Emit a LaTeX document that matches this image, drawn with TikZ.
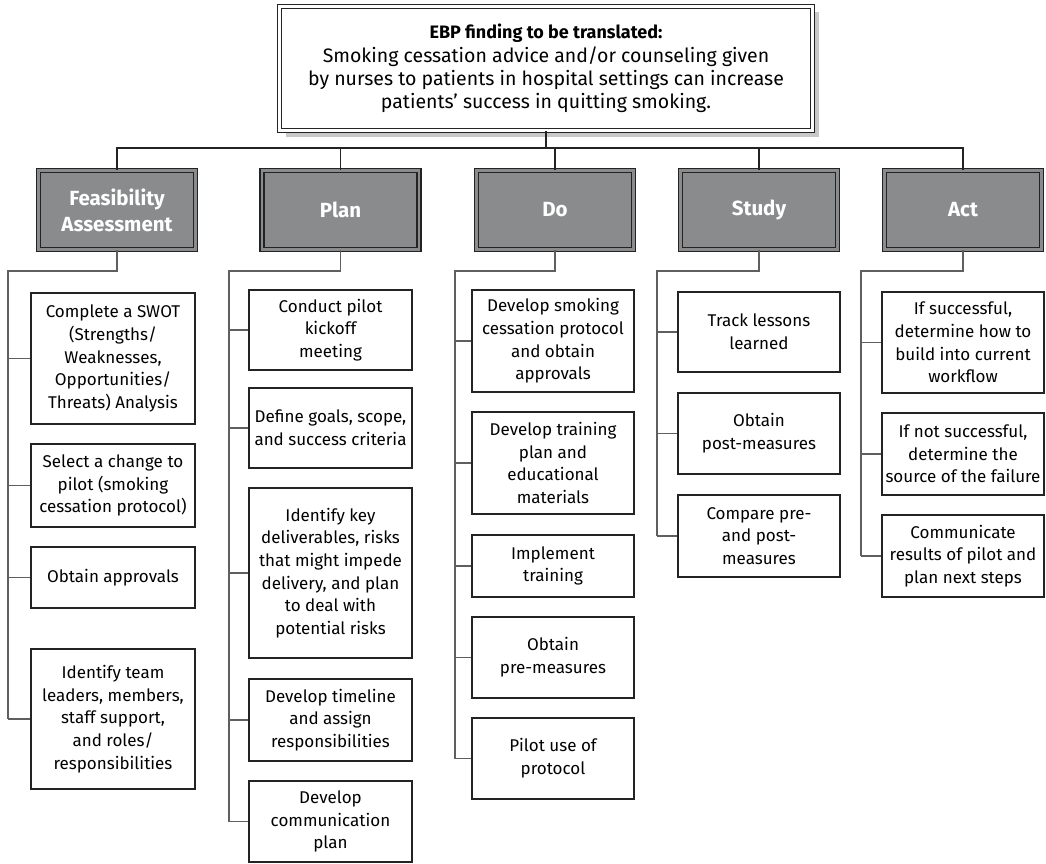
\documentclass[tikz,border=0pt]{standalone}
\usepackage{fontspec}
\setmainfont{Fira Sans}
\usetikzlibrary{shadows}
\definecolor{hdr}{RGB}{138,139,141}
\definecolor{ln}{RGB}{35,35,35}
\definecolor{cn}{RGB}{95,95,95}
\definecolor{shd}{RGB}{200,200,200}
\begin{document}
\begin{tikzpicture}[x=1pt,y=-1pt,
  cbox/.style={draw=ln, line width=1.2pt, fill=white, align=center, inner sep=0pt,
    font=\fontsize{17}{22.7}\selectfont},
  hbox/.style={draw=ln, line width=1.3pt, double=hdr, double distance=2.6pt, fill=hdr,
    text=white, align=center, inner sep=0pt, minimum width=157, minimum height=79,
    font=\bfseries\fontsize{20.5}{26}\selectfont},
  topbox/.style={draw=ln, line width=1.1pt, double=white, double distance=2.5pt, fill=white,
    align=center, inner sep=0pt, minimum width=533, minimum height=124,
    font=\fontsize{19.5}{23.2}\selectfont,
    drop shadow={shadow xshift=6pt, shadow yshift=-6pt, fill=shd, opacity=1}},
  conn/.style={draw=cn, line width=1.3pt},
  bus/.style={draw=ln, line width=1.3pt},
  stem/.style={draw=ln, line width=2.3pt},
  w1/.style={minimum width=164}, w2/.style={minimum width=163},
  w3/.style={minimum width=162}
]
\useasboundingbox (0,0) rectangle (1046,864);

% top box
\node[topbox] (top) at (546,68.5) {{\bfseries\fontsize{18}{23.2}\selectfont EBP finding to be translated:}\\
Smoking cessation advice and/or counseling given\\
by nurses to patients in hospital settings can increase\\
patients’ success in quitting smoking.};

% headers
\node[hbox] (h1) at (117,210) {Feasibility\\Assessment};
\node[hbox] (h2) at (340.5,210) {Plan};
\node[hbox] (h3) at (555,210) {Do};
\node[hbox] (h4) at (759,210) {Study};
\node[hbox] (h5) at (963,210) {Act};

% column 1
\node[cbox,w1,minimum height=131] (c1a) at (113,358.5) {Complete a SWOT\\(Strengths/\\Weaknesses,\\Opportunities/\\Threats) Analysis};
\node[cbox,w1,minimum height=83] (c1b) at (113,485.5) {Select a change to\\pilot (smoking\\cessation protocol)};
\node[cbox,w1,minimum height=61] (c1c) at (113,577.5) {Obtain approvals};
\node[cbox,w1,minimum height=140] (c1d) at (113,719) {Identify team\\leaders, members,\\staff support,\\and roles/\\responsibilities};

% column 2
\node[cbox,w2,minimum height=80] (c2a) at (330.5,330) {Conduct pilot\\kickoff\\meeting};
\node[cbox,w2,minimum height=80] (c2b) at (330.5,428) {Define goals, scope,\\and success criteria};
\node[cbox,w2,minimum height=170] (c2c) at (330.5,573) {Identify key\\deliverables, risks\\that might impede\\delivery, and plan\\to deal with\\potential risks};
\node[cbox,w2,minimum height=82] (c2d) at (330.5,720) {Develop timeline\\and assign\\responsibilities};
\node[cbox,w2,minimum height=81] (c2e) at (330.5,821.5) {Develop\\communication\\plan};

% column 3
\node[cbox,w3,minimum height=102] (c3a) at (553,341) {Develop smoking\\cessation protocol\\and obtain\\approvals};
\node[cbox,w3,minimum height=102] (c3b) at (553,463) {Develop training\\plan and\\educational\\materials};
\node[cbox,w3,minimum height=62] (c3c) at (553,566) {Implement\\training};
\node[cbox,w3,minimum height=81] (c3d) at (553,657.5) {Obtain\\pre-measures};
\node[cbox,w3,minimum height=81] (c3e) at (553,758.5) {Pilot use of\\protocol};

% column 4
\node[cbox,w3,minimum height=80] (c4a) at (759,332) {Track lessons\\learned};
\node[cbox,w3,minimum height=81] (c4b) at (759,433.5) {Obtain\\post-measures};
\node[cbox,w3,minimum height=82] (c4c) at (759,536) {Compare pre-\\and post-\\measures};

% column 5
\node[cbox,w3,minimum height=101] (c5a) at (963,342.5) {If successful,\\determine how to\\build into current\\workflow};
\node[cbox,w3,minimum height=82] (c5b) at (963,454) {If not successful,\\determine the\\source of the failure};
\node[cbox,w3,minimum height=82] (c5c) at (963,556) {Communicate\\results of pilot and\\plan next steps};

% bus
\coordinate (bus) at (546,148);
\draw[stem] (top.south) -- (bus);
\draw[bus] (h1.north) |- (bus) -| (h5.north);
\draw[bus] (h2.north) -- (h2.north |- bus);
\draw[bus] (h3.north) -- (h3.north |- bus);
\draw[bus] (h4.north) -- (h4.north |- bus);

% trunks
\coordinate (j1) at (8,271);
\coordinate (j2) at (229,271);
\coordinate (j3) at (455,271);
\coordinate (j4) at (657,271);
\coordinate (j5) at (861,271);
\draw[conn] (h1.south) |- (j1) -- (j1 |- c1d.west);
\draw[conn] (h2.south) |- (j2) -- (j2 |- c2e.west);
\draw[conn] (h3.south) |- (j3) -- (j3 |- c3e.west);
\draw[conn] (h4.south) |- (j4) -- (j4 |- c4c.west);
\draw[conn] (h5.south) |- (j5) -- (j5 |- c5c.west);
\foreach \c in {c1a,c1b,c1c,c1d} \draw[conn] (j1 |- \c.west) -- (\c.west);
\foreach \c in {c2a,c2b,c2c,c2d,c2e} \draw[conn] (j2 |- \c.west) -- (\c.west);
\foreach \c in {c3a,c3b,c3c,c3d,c3e} \draw[conn] (j3 |- \c.west) -- (\c.west);
\foreach \c in {c4a,c4b,c4c} \draw[conn] (j4 |- \c.west) -- (\c.west);
\foreach \c in {c5a,c5b,c5c} \draw[conn] (j5 |- \c.west) -- (\c.west);
\end{tikzpicture}
\end{document}
